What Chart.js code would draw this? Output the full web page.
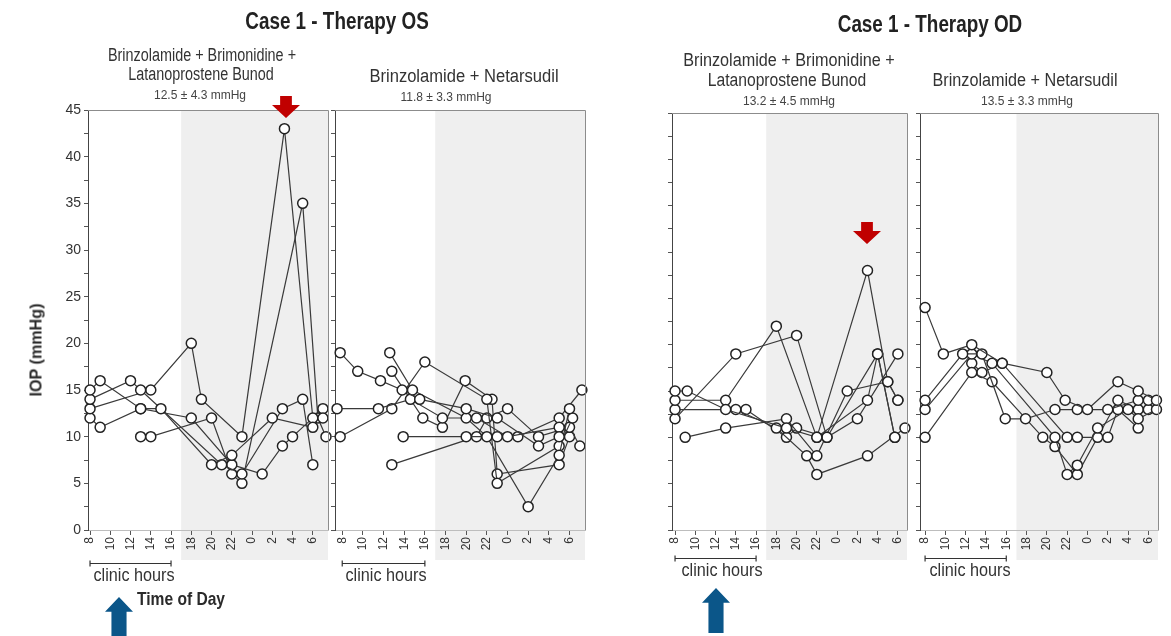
<!DOCTYPE html>
<html>
<head>
<meta charset="utf-8">
<script src="https://cdn.jsdelivr.net/npm/chart.js@4.4.1/dist/chart.umd.min.js"></script>
<style>
  html, body { margin: 0; padding: 0; background: #fff; }
  #page { position: relative; width: 1171px; height: 636px; overflow: hidden;
          font-family: "Liberation Sans", sans-serif; color: #2a2a2a; }
  canvas { position: absolute; left: 0; top: 0; }
  .c { position: absolute; white-space: nowrap; line-height: 1; transform: translateX(-50%) scaleX(var(--sx, 0.9)); }
  .title { font-weight: bold; font-size: 23px; color: #222; --sx: 0.82; }
  .sub { font-size: 18px; color: #333; }
  .mm { font-size: 12px; color: #444; --sx: 1; }
  .clinic { font-size: 18px; color: #333; --sx: 0.9; }
  .ylab { position: absolute; white-space: nowrap; line-height: 1; font-weight: bold; font-size: 17px;
          transform: translate(-50%, -50%) rotate(-90deg) scaleX(0.95); }
  .tod { position: absolute; white-space: nowrap; line-height: 1; font-weight: bold; font-size: 19px;
         transform-origin: left center; transform: scaleX(0.82); }
  .arrow-down { position: absolute; width: 28px; height: 22px; background: #c00000;
                clip-path: polygon(29% 0, 71% 0, 71% 41%, 100% 41%, 50% 100%, 0 41%, 29% 41%); }
  .arrow-up { position: absolute; width: 28px; height: 45px; background: #0b5689;
              clip-path: polygon(50% 0, 100% 33%, 77% 33%, 77% 100%, 23% 100%, 23% 33%, 0 33%); }
</style>
</head>
<body>
<div id="page">
  <canvas id="osTriple" width="1171" height="636"></canvas>
  <canvas id="osDual" width="1171" height="636"></canvas>
  <canvas id="odTriple" width="1171" height="636"></canvas>
  <canvas id="odDual" width="1171" height="636"></canvas>

  <div class="c title" style="left:337px; top:10px;">Case 1 - Therapy OS</div>
  <div class="c title" style="left:930px; top:13px;">Case 1 - Therapy OD</div>

  <div class="c sub" style="left:202px; top:46px; --sx:0.8;">Brinzolamide + Brimonidine +</div>
  <div class="c sub" style="left:201px; top:65px; --sx:0.8;">Latanoprostene Bunod</div>
  <div class="c mm" style="left:200px; top:89px;">12.5 ± 4.3 mmHg</div>

  <div class="c sub" style="left:464px; top:67px; --sx:0.92;">Brinzolamide + Netarsudil</div>
  <div class="c mm" style="left:446px; top:91px;">11.8 ± 3.3 mmHg</div>

  <div class="c sub" style="left:789px; top:51px;">Brinzolamide + Brimonidine +</div>
  <div class="c sub" style="left:787px; top:71px; --sx:0.87;">Latanoprostene Bunod</div>
  <div class="c mm" style="left:789px; top:95px;">13.2 ± 4.5 mmHg</div>

  <div class="c sub" style="left:1025px; top:71px;">Brinzolamide + Netarsudil</div>
  <div class="c mm" style="left:1027px; top:95px;">13.5 ± 3.3 mmHg</div>

  <div class="ylab" style="left:36px; top:350px;">IOP (mmHg)</div>

  <div class="c clinic" style="left:134px; top:566px;">clinic hours</div>
  <div class="c clinic" style="left:386px; top:566px;">clinic hours</div>
  <div class="c clinic" style="left:722px; top:561px;">clinic hours</div>
  <div class="c clinic" style="left:970px; top:561px;">clinic hours</div>

  <div class="tod" style="left:137px; top:589px;">Time of Day</div>

  <div class="arrow-down" style="left:272px; top:96px;"></div>
  <div class="arrow-down" style="left:853px; top:222px;"></div>
  <div class="arrow-up" style="left:105px; top:597px;"></div>
  <div class="arrow-up" style="left:702px; top:588px;"></div>
</div>

<script>
const PAGE_W = 1171, PAGE_H = 636;

// x axis: clock hours, values past 24 are the early hours of the next day
const hourTicks = [8, 10, 12, 14, 16, 18, 20, 22, 24, 26, 28, 30];
const iopTicks = [0, 2.5, 5, 7.5, 10, 12.5, 15, 17.5, 20, 22.5, 25, 27.5, 30, 32.5, 35, 37.5, 40, 42.5, 45];
const clinicHours = [8, 16];
const nightStart = 17;

// OS, brinzolamide + brimonidine + latanoprostene bunod
const osTripleHours = [
  [8, 9, 13, 15, 20, 22, 26, 30],
  [8, 12, 13, 21, 23, 27, 29, 30],
  [8, 14, 18, 19, 23, 27.2, 30, 31],
  [8, 9, 13, 18, 22, 25, 27, 28, 31],
  [13, 14, 20, 22, 23, 29, 30.5, 31.3]
];
const osTripleIop = [
  [15, 16, 13, 13, 7, 8, 12, 11],
  [14, 16, 15, 7, 6, 13, 14, 7],
  [13, 15, 20, 14, 10, 43, 12, 12],
  [12, 11, 13, 12, 7, 6, 9, 10, 13],
  [10, 10, 12, 6, 5, 35, 12, 10]
];

// OS, brinzolamide + netarsudil
const osDualHours = [
  [7.8, 9.5, 11.7, 13.8, 15.5, 20, 23, 27, 29],
  [12.6, 14.8, 20, 22, 26, 29, 30],
  [7.5, 11.5, 14.6, 17.7, 21, 24, 29],
  [7.8, 12.8, 16, 22, 23, 29, 30.3],
  [13.9, 20, 23, 25, 29, 31.2],
  [12.8, 21, 22, 24, 27, 30, 31],
  [12.8, 15.8, 17.7, 19.9, 22.5, 23, 29, 30]
];
const osDualIop = [
  [19, 17, 16, 15, 14, 13, 12, 9, 10],
  [19, 15, 12, 10, 2.5, 8, 13],
  [13, 13, 14, 12, 12, 10, 11],
  [10, 13, 18, 14, 5, 9, 12],
  [10, 10, 10, 10, 12, 15],
  [7, 10, 12, 13, 10, 11, 9],
  [17, 12, 11, 16, 14, 6, 7, 10]
];

// OD, brinzolamide + brimonidine + latanoprostene bunod
const odTripleHours = [
  [8, 9.2, 13, 19, 22, 27, 29, 30],
  [8, 13, 18, 22, 27, 28, 29.7],
  [8, 14, 18, 21, 22, 27, 30.7],
  [8, 14, 20, 23, 26, 30],
  [9, 13, 19, 22, 25, 29, 30],
  [15, 19, 20, 23, 28, 29.7]
];
const odTripleIop = [
  [15, 15, 13, 11, 10, 28, 16, 14],
  [14, 14, 22, 10, 14, 19, 10],
  [13, 13, 11, 8, 6, 8, 11],
  [12, 19, 21, 10, 12, 19],
  [10, 11, 12, 8, 15, 16, 14],
  [13, 10, 11, 10, 19, 10]
];

// OD, brinzolamide + netarsudil
const odDualHours = [
  [8, 9.8, 12.6, 15.6, 20, 21.8, 24, 27, 29, 30.8],
  [8, 11.7, 13.6, 15.9, 17.9, 20.8, 23, 26, 29, 30],
  [8, 12.6, 14.6, 20.8, 22, 23, 25, 28, 29, 30.8],
  [8, 12.6, 14.6, 19.6, 20.8, 23, 25, 27, 29, 30],
  [12.6, 13.6, 15.6, 22, 23, 26, 27, 29]
];
const odDualIop = [
  [24, 19, 20, 18, 17, 14, 13, 16, 15, 14],
  [14, 19, 19, 12, 12, 13, 13, 13, 14, 14],
  [13, 19, 18, 10, 6, 7, 11, 13, 12, 13],
  [10, 17, 16, 10, 9, 6, 10, 14, 13, 13],
  [18, 17, 18, 10, 10, 10, 13, 11]
];

Chart.defaults.font.family = '"Liberation Sans", sans-serif';
Chart.defaults.color = '#333';

// grey night band (runs a little below the axis), plot frame and clinic-hours bracket
const nightShade = {
  id: 'nightShade',
  beforeDraw(chart, args, o) {
    const { ctx, chartArea: a, scales: { x } } = chart;
    const left = x.getPixelForValue(o.from);
    ctx.save();
    ctx.fillStyle = '#efefef';
    ctx.fillRect(left, a.top, a.right - left, a.bottom - a.top + o.below);
    ctx.restore();
  },
  afterDraw(chart, args, o) {
    const { ctx, chartArea: a, scales: { x } } = chart;
    ctx.save();
    ctx.strokeStyle = '#8c8c8c';
    ctx.lineWidth = 1;
    ctx.beginPath();
    ctx.moveTo(a.left, a.top + 0.5);
    ctx.lineTo(a.right + 0.5, a.top + 0.5);
    ctx.lineTo(a.right + 0.5, a.bottom);
    ctx.stroke();

    const x0 = x.getPixelForValue(clinicHours[0]);
    const x1 = x.getPixelForValue(clinicHours[1]);
    const yb = Math.round(a.bottom + o.bracket) + 0.5;
    ctx.strokeStyle = '#333';
    ctx.lineWidth = 1.2;
    ctx.beginPath();
    ctx.moveTo(x0, yb - 3); ctx.lineTo(x0, yb + 3);
    ctx.moveTo(x0, yb); ctx.lineTo(x1, yb);
    ctx.moveTo(x1, yb - 3); ctx.lineTo(x1, yb + 3);
    ctx.stroke();
    ctx.restore();
  }
};

function makePanel(id, hours, iop, box, showY) {
  const yw = showY ? 30 : 6;
  const xh = 24;
  const datasets = hours.map((hs, i) => ({
    data: hs.map((h, j) => ({ x: h, y: iop[i][j] })),
    borderColor: '#3a3a3a',
    borderWidth: 1.2,
    pointRadius: 5,
    pointHoverRadius: 5,
    pointBackgroundColor: '#fff',
    pointBorderColor: '#222',
    pointBorderWidth: 1.5,
    clip: false
  }));

  return new Chart(document.getElementById(id), {
    type: 'line',
    data: { datasets },
    options: {
      responsive: false,
      animation: false,
      events: [],
      layout: {
        padding: { left: box.l - yw, top: box.t, right: PAGE_W - box.r, bottom: PAGE_H - box.b - xh }
      },
      plugins: {
        legend: { display: false },
        tooltip: { enabled: false },
        nightShade: { from: nightStart, below: 30, bracket: box.bracket }
      },
      scales: {
        x: {
          type: 'linear',
          min: box.xmin,
          max: box.xmax,
          afterBuildTicks: s => { s.ticks = hourTicks.map(v => ({ value: v })); },
          afterFit: s => { s.height = xh; },
          ticks: {
            autoSkip: false, minRotation: 90, maxRotation: 90, padding: 2,
            font: { size: 12 }, color: '#333',
            callback: v => String(v % 24)
          },
          grid: { drawOnChartArea: false, tickLength: 5, color: '#555' },
          border: { color: '#bdbdbd' }
        },
        y: {
          min: 0,
          max: 45,
          afterBuildTicks: s => { s.ticks = iopTicks.map(v => ({ value: v })); },
          afterFit: s => { s.width = yw; },
          ticks: {
            display: showY, padding: 3, font: { size: 14 }, color: '#333',
            callback: v => (v % 5 === 0 ? v : '')
          },
          grid: { drawOnChartArea: false, tickLength: 4, color: '#555' },
          border: { color: '#444' }
        }
      }
    },
    plugins: [nightShade]
  });
}

makePanel('osTriple', osTripleHours, osTripleIop,
  { l: 88, r: 328, t: 110, b: 530, xmin: 7.8, xmax: 31.5, bracket: 33 }, true);
makePanel('osDual', osDualHours, osDualIop,
  { l: 335, r: 585, t: 110, b: 530, xmin: 7.3, xmax: 31.5, bracket: 33 }, false);
makePanel('odTriple', odTripleHours, odTripleIop,
  { l: 672, r: 907, t: 113, b: 530, xmin: 7.7, xmax: 30.9, bracket: 28 }, false);
makePanel('odDual', odDualHours, odDualIop,
  { l: 920, r: 1158, t: 113, b: 530, xmin: 7.5, xmax: 30.95, bracket: 28 }, false);
</script>
</body>
</html>
